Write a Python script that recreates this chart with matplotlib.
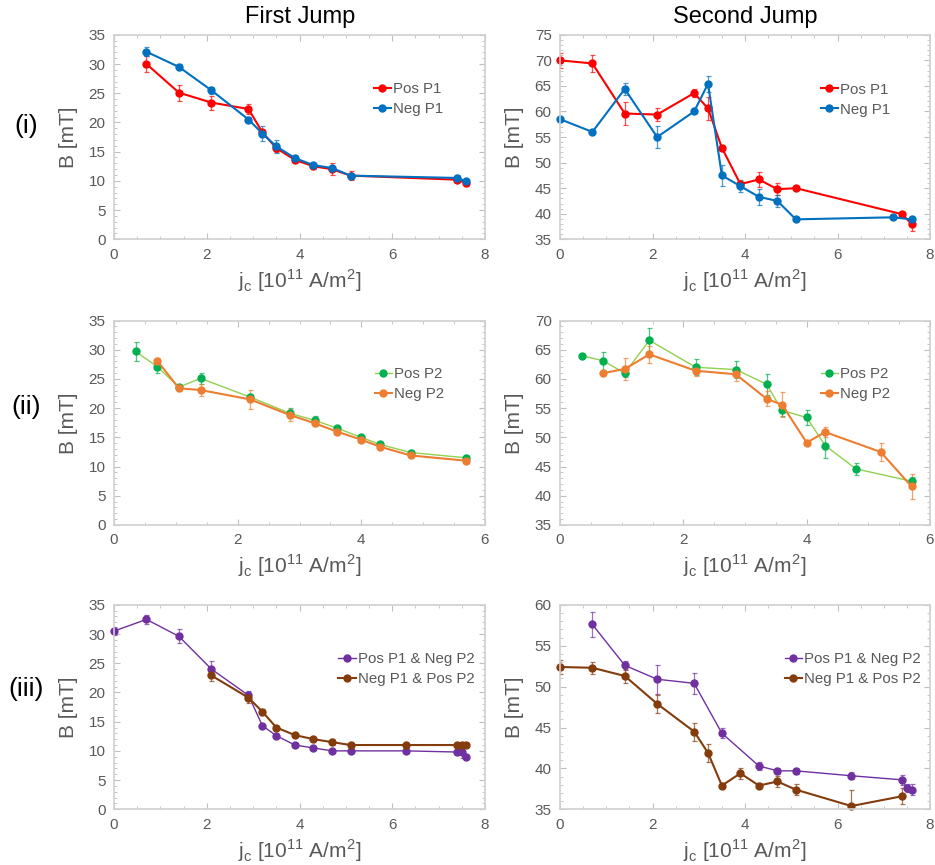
import matplotlib
matplotlib.use('Agg')
from matplotlib import pyplot as plt
from matplotlib.lines import Line2D
from matplotlib.ticker import MultipleLocator

plt.rcParams['font.family'] = ['Liberation Sans', 'DejaVu Sans']
plt.rcParams['mathtext.fontset'] = 'custom'
plt.rcParams['mathtext.rm'] = 'Liberation Sans'

# ---- (i) first jump ----
x_p1_first = [0.7, 1.4, 2.1, 2.9, 3.2, 3.5, 3.9, 4.3, 4.7, 5.1, 7.4, 7.6]
pos_p1_first = [30.0, 25.1, 23.4, 22.3, 18.3, 15.6, 13.6, 12.5, 12.0, 10.9, 10.2, 9.6]
pos_p1_first_err = [1.3, 1.35, 1.2, 0.85, 0.4, 0.7, 0.4, 0.4, 1.0, 0.8, 0.3, 0.4]
neg_p1_first = [32.1, 29.5, 25.5, 20.5, 18.1, 15.9, 13.9, 12.7, 12.2, 10.9, 10.5, 9.9]
neg_p1_first_err = [0.75, 0.55, 0.55, 0.4, 1.3, 1.1, 0.3, 0.3, 0.4, 0.3, 0.5, 0.3]

# ---- (i) second jump ----
x_pos_p1_second = [0, 0.7, 1.4, 2.1, 2.9, 3.2, 3.5, 3.9, 4.3, 4.7, 5.1, 7.4, 7.6]
pos_p1_second = [70.0, 69.4, 59.6, 59.4, 63.6, 60.6, 52.9, 45.8, 46.7, 44.8, 45.0, 39.9, 38.0]
pos_p1_second_err = [1.5, 1.6, 2.2, 1.25, 0.8, 2.2, 0.3, 0.4, 1.5, 1.15, 0.3, 0.3, 1.3]
x_neg_p1_second = [0, 0.7, 1.4, 2.1, 2.9, 3.2, 3.5, 3.9, 4.3, 4.7, 5.1, 7.2, 7.6]
neg_p1_second = [58.5, 56.0, 64.4, 55.0, 60.0, 65.4, 47.5, 45.4, 43.3, 42.5, 38.9, 39.3, 38.9]
neg_p1_second_err = [0.3, 0.3, 1.1, 2.2, 0.3, 1.5, 2.1, 1.15, 1.5, 1.1, 0.2, 0.4, 0.4]

# ---- (ii) first jump ----
x_pos_p2_first = [0.35, 0.7, 1.05, 1.4, 2.2, 2.85, 3.25, 3.6, 4.0, 4.3, 4.8, 5.7]
pos_p2_first = [29.7, 27.1, 23.6, 25.1, 21.9, 19.1, 17.9, 16.6, 15.0, 13.8, 12.4, 11.5]
pos_p2_first_err = [1.6, 1.0, 0.4, 1.0, 0.6, 0.85, 0.8, 0.4, 0.3, 0.4, 0.4, 0.5]
x_neg_p2_first = [0.7, 1.05, 1.4, 2.2, 2.85, 3.25, 3.6, 4.0, 4.3, 4.8, 5.7]
neg_p2_first = [28.1, 23.4, 23.1, 21.5, 18.8, 17.4, 16.0, 14.6, 13.4, 11.9, 11.0]
neg_p2_first_err = [0.5, 0.5, 1.1, 1.65, 1.0, 0.4, 0.3, 0.3, 0.3, 0.3, 0.3]

# ---- (ii) second jump ----
x_pos_p2_second = [0.35, 0.7, 1.05, 1.45, 2.2, 2.85, 3.35, 3.6, 4.0, 4.3, 4.8, 5.7]
pos_p2_second = [64.0, 63.1, 61.0, 66.6, 62.0, 61.6, 59.1, 54.6, 53.4, 48.6, 44.6, 42.5]
pos_p2_second_err = [0.0, 1.55, 0.7, 2.1, 1.4, 1.4, 1.8, 1.0, 1.2, 2.1, 1.05, 0.8]
x_neg_p2_second = [0.7, 1.05, 1.45, 2.2, 2.85, 3.35, 3.6, 4.0, 4.3, 5.2, 5.7]
neg_p2_second = [61.0, 61.7, 64.2, 61.4, 60.8, 56.6, 55.6, 49.1, 50.9, 47.5, 41.6]
neg_p2_second_err = [0.4, 1.8, 1.4, 0.85, 1.2, 1.3, 2.2, 0.3, 0.9, 1.6, 2.2]

# ---- (iii) first jump ----
x_pos1_neg2_first = [0, 0.7, 1.4, 2.1, 2.9, 3.2, 3.5, 3.9, 4.3, 4.7, 5.1, 6.3, 7.4, 7.5, 7.6]
pos1_neg2_first = [30.5, 32.5, 29.6, 24.0, 19.5, 14.3, 12.6, 11.0, 10.5, 10.0, 10.0, 10.0, 9.8, 9.8, 9.0]
pos1_neg2_first_err = [0.7, 0.8, 1.2, 1.4, 0.7, 0.3, 0.3, 0.3, 0.3, 0.3, 0.3, 0.3, 0.3, 1.1, 0.3]
x_neg1_pos2_first = [2.1, 2.9, 3.2, 3.5, 3.9, 4.3, 4.7, 5.1, 6.3, 7.4, 7.5, 7.6]
neg1_pos2_first = [22.9, 19.1, 16.7, 14.0, 12.7, 12.0, 11.5, 11.0, 11.0, 11.0, 11.0, 11.0]
neg1_pos2_first_err = [0.9, 0.85, 0.4, 0.3, 0.3, 0.3, 0.5, 0.3, 0.3, 0.3, 0.3, 0.3]

# ---- (iii) second jump ----
x_pos1_neg2_second = [0.7, 1.4, 2.1, 2.9, 3.5, 4.3, 4.7, 5.1, 6.3, 7.4, 7.5, 7.6]
pos1_neg2_second = [57.6, 52.6, 50.9, 50.4, 44.3, 40.3, 39.7, 39.7, 39.1, 38.6, 37.6, 37.4]
pos1_neg2_second_err = [1.5, 0.55, 1.8, 1.3, 0.6, 0.45, 0.35, 0.35, 0.4, 0.65, 0.5, 0.7]
x_neg1_pos2_second = [0, 0.7, 1.4, 2.1, 2.9, 3.2, 3.5, 3.9, 4.3, 4.7, 5.1, 6.3, 7.4]
neg1_pos2_second = [52.4, 52.3, 51.3, 47.9, 44.5, 41.9, 37.9, 39.4, 37.9, 38.4, 37.4, 35.4, 36.6]
neg1_pos2_second_err = [0.8, 0.75, 0.85, 1.1, 1.1, 1.1, 0.3, 0.7, 0.3, 0.65, 0.67, 2.0, 0.95]

grey = '#595959'
frame = '#D0D0D0'

red, blue = '#FF0000', '#0070C0'
green, lgreen = '#00B050', '#92D050'
orange = '#ED7D31'
purple, brown = '#7030A0', '#843C0C'

fig = plt.figure(figsize=(9.35, 8.65), dpi=100)

lefts = [114 / 935, 560 / 935]
widths = [371 / 935, 370 / 935]
bottoms = [1 - 239.3 / 865, 1 - 525 / 865, 1 - 809.3 / 865]
height = 204.5 / 865


def make_ax(row, col, xmax, ylim):
    ax = fig.add_axes([lefts[col], bottoms[row], widths[col], height])
    ax.set_xlim(0, xmax)
    ax.set_ylim(*ylim)
    ax.xaxis.set_major_locator(MultipleLocator(2))
    ax.xaxis.set_minor_locator(MultipleLocator(0.5))
    ax.yaxis.set_major_locator(MultipleLocator(5))
    ax.yaxis.set_minor_locator(MultipleLocator(1))
    ax.tick_params(which='both', direction='in', top=True, right=True,
                   color='#BFBFBF', labelcolor=grey, labelsize=11)
    ax.tick_params(which='major', length=4, pad=6)
    ax.tick_params(which='minor', length=2.5)
    for s in ax.spines.values():
        s.set_color(frame)
        s.set_linewidth(1.2)
    ax.set_xlabel(r'j$_\mathregular{c}$ [10$^\mathregular{11}$ A/m$^\mathregular{2}$]',
                  color=grey, fontsize=15, labelpad=4)
    ax.set_ylabel('B [mT]', color=grey, fontsize=15, labelpad=8)
    return ax


def series(ax, x, y, err, color, lw, line_color=None):
    line, caps, bars = ax.errorbar(x, y, yerr=err, color=line_color or color, lw=lw,
                                   marker='o', markersize=5, mfc=color, mec=color,
                                   ecolor=color, elinewidth=0.9, capsize=1.8,
                                   capthick=0.9)
    line.set_clip_on(False)
    for b in bars:
        b.set_alpha(0.7)
    for c in caps:
        c.set_alpha(0.7)
    return Line2D([], [], color=line_color or color, lw=lw, marker='o',
                  markersize=5, mfc=color, mec=color)


def legend(ax, handles, labels, x, y):
    ax.legend(handles, labels, loc='center left', bbox_to_anchor=(x, y), frameon=False,
              borderaxespad=0, borderpad=0, handlelength=1.15, handletextpad=0.15,
              labelspacing=0.4, fontsize=10.8, labelcolor=grey)


ax = make_ax(0, 0, 8, (0, 35))
h1 = series(ax, x_p1_first, pos_p1_first, pos_p1_first_err, red, 1.5)
h2 = series(ax, x_p1_first, neg_p1_first, neg_p1_first_err, blue, 1.5)
legend(ax, [h1, h2], ['Pos P1', 'Neg P1'], 0.70, 0.686)

ax = make_ax(0, 1, 8, (35, 75))
h1 = series(ax, x_pos_p1_second, pos_p1_second, pos_p1_second_err, red, 1.5)
h2 = series(ax, x_neg_p1_second, neg_p1_second, neg_p1_second_err, blue, 1.5)
legend(ax, [h1, h2], ['Pos P1', 'Neg P1'], 0.705, 0.683)

ax = make_ax(1, 0, 6, (0, 35))
h1 = series(ax, x_pos_p2_first, pos_p2_first, pos_p2_first_err, green, 1.0, lgreen)
h2 = series(ax, x_neg_p2_first, neg_p2_first, neg_p2_first_err, orange, 1.5)
legend(ax, [h1, h2], ['Pos P2', 'Neg P2'], 0.703, 0.688)

ax = make_ax(1, 1, 6, (35, 70))
h1 = series(ax, x_pos_p2_second, pos_p2_second, pos_p2_second_err, green, 1.0, lgreen)
h2 = series(ax, x_neg_p2_second, neg_p2_second, neg_p2_second_err, orange, 1.5)
legend(ax, [h1, h2], ['Pos P2', 'Neg P2'], 0.705, 0.69)

ax = make_ax(2, 0, 8, (0, 35))
h1 = series(ax, x_pos1_neg2_first, pos1_neg2_first, pos1_neg2_first_err, purple, 1.0)
h2 = series(ax, x_neg1_pos2_first, neg1_pos2_first, neg1_pos2_first_err, brown, 1.5)
legend(ax, [h1, h2], ['Pos P1 & Neg P2', 'Neg P1 & Pos P2'], 0.605, 0.685)

ax = make_ax(2, 1, 8, (35, 60))
h1 = series(ax, x_pos1_neg2_second, pos1_neg2_second, pos1_neg2_second_err, purple, 1.0)
h2 = series(ax, x_neg1_pos2_second, neg1_pos2_second, neg1_pos2_second_err, brown, 1.5)
legend(ax, [h1, h2], ['Pos P1 & Neg P2', 'Neg P1 & Pos P2'], 0.607, 0.686)

fig.text(300 / 935, 1 - 17 / 865, 'First Jump', ha='center', va='center', fontsize=17)
fig.text(745 / 935, 1 - 17 / 865, 'Second Jump', ha='center', va='center', fontsize=17)
for lab, yy in [('(i)', 126), ('(ii)', 407), ('(iii)', 689)]:
    fig.text(26 / 935, 1 - yy / 865, lab, ha='center', va='center', fontsize=19)

fig.savefig('out.png', dpi=100)
